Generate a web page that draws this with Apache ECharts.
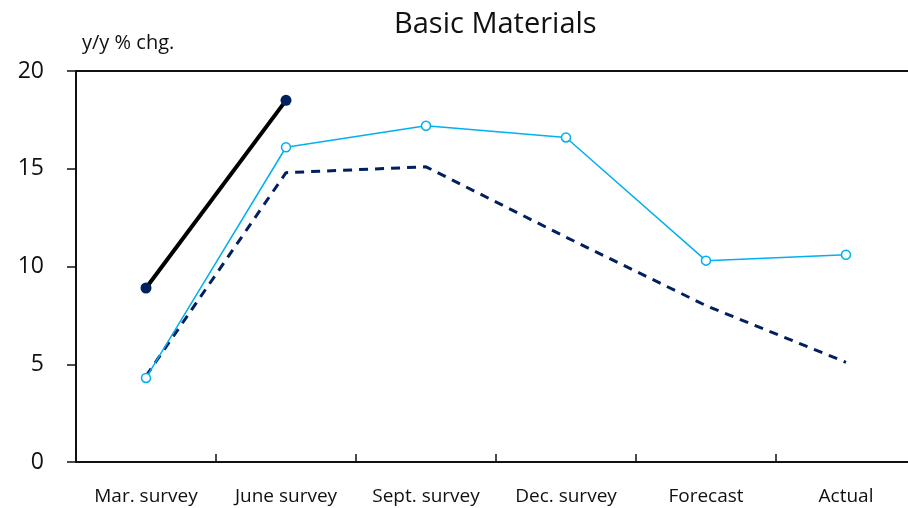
<!DOCTYPE html>
<html>
<head>
<meta charset="utf-8">
<script src="https://cdn.jsdelivr.net/npm/echarts@6/dist/echarts.min.js"></script>
<style>
  html, body { margin: 0; padding: 0; background: #fff; overflow: hidden; }
  /* the plot runs slightly past the right edge of the window */
  #chart { width: 916px; height: 508px; }
</style>
</head>
<body>
<div id="chart"></div>
<script>
// Survey rounds on the x axis
const categories = ['Mar. survey', 'June survey', 'Sept. survey', 'Dec. survey', 'Forecast', 'Actual'];
// y/y % change values per series (null = not reported)
const currentYear = [8.9, 18.5, null, null, null, null];
const priorYear = [4.3, 16.1, 17.2, 16.6, 10.3, 10.6];
const averageYear = [4.4, 14.8, 15.1, 11.5, 8.0, 5.1];
const yTicks = { min: 0, max: 20, interval: 5 };

const FONT = '"Open Sans", "Noto Sans", sans-serif';
const NAVY = '#002060';
const SKY = '#00B0F0';

const chart = echarts.init(document.getElementById('chart'), null, { renderer: 'canvas' });
chart.setOption({
  backgroundColor: '#ffffff',
  animation: false,
  title: {
    text: 'Basic Materials',
    left: 389, top: 5,
    textStyle: { fontFamily: FONT, fontSize: 29, fontWeight: 'normal', color: '#111' }
  },
  graphic: [{
    type: 'text', left: 82, top: 33,
    style: { text: 'y/y % chg.', fontFamily: FONT, fontSize: 20, fill: '#111' }
  }],
  grid: { left: 76, right: 0, top: 71, bottom: 46, containLabel: false },
  xAxis: [{
    type: 'category',
    data: categories,
    boundaryGap: true,
    axisLine: { lineStyle: { color: '#111', width: 2 } },
    axisTick: { show: true, inside: true, length: 8, interval: 0, lineStyle: { color: '#111', width: 1.5 } },
    axisLabel: { fontFamily: FONT, fontSize: 19, color: '#111', margin: 25, interval: 0 },
    splitLine: { show: false }
  }, {
    type: 'category',
    data: categories,
    position: 'top',
    axisLine: { lineStyle: { color: '#111', width: 2 } },
    axisTick: { show: false },
    axisLabel: { show: false }
  }],
  yAxis: {
    type: 'value',
    min: yTicks.min, max: yTicks.max, interval: yTicks.interval,
    axisLine: { show: true, lineStyle: { color: '#111', width: 2 } },
    axisTick: { show: true, inside: false, length: 9, lineStyle: { color: '#111', width: 1.5 } },
    axisLabel: { fontFamily: FONT, fontSize: 23, color: '#111', margin: 32 },
    splitLine: { show: false }
  },
  series: [{
    name: 'Average',
    type: 'line',
    data: averageYear,
    showSymbol: false,
    symbol: 'none',
    lineStyle: { color: NAVY, width: 3, type: [9, 7] },
    z: 2
  }, {
    name: 'Prior year',
    type: 'line',
    data: priorYear,
    symbol: 'circle',
    symbolSize: 9,
    itemStyle: { color: '#ffffff', borderColor: SKY, borderWidth: 1.5 },
    lineStyle: { color: SKY, width: 1.5 },
    z: 3
  }, {
    name: 'Current year',
    type: 'line',
    data: currentYear,
    symbol: 'circle',
    symbolSize: 11,
    itemStyle: { color: NAVY, borderColor: NAVY, borderWidth: 0 },
    lineStyle: { color: '#000000', width: 4 },
    z: 4
  }]
});
</script>
</body>
</html>
